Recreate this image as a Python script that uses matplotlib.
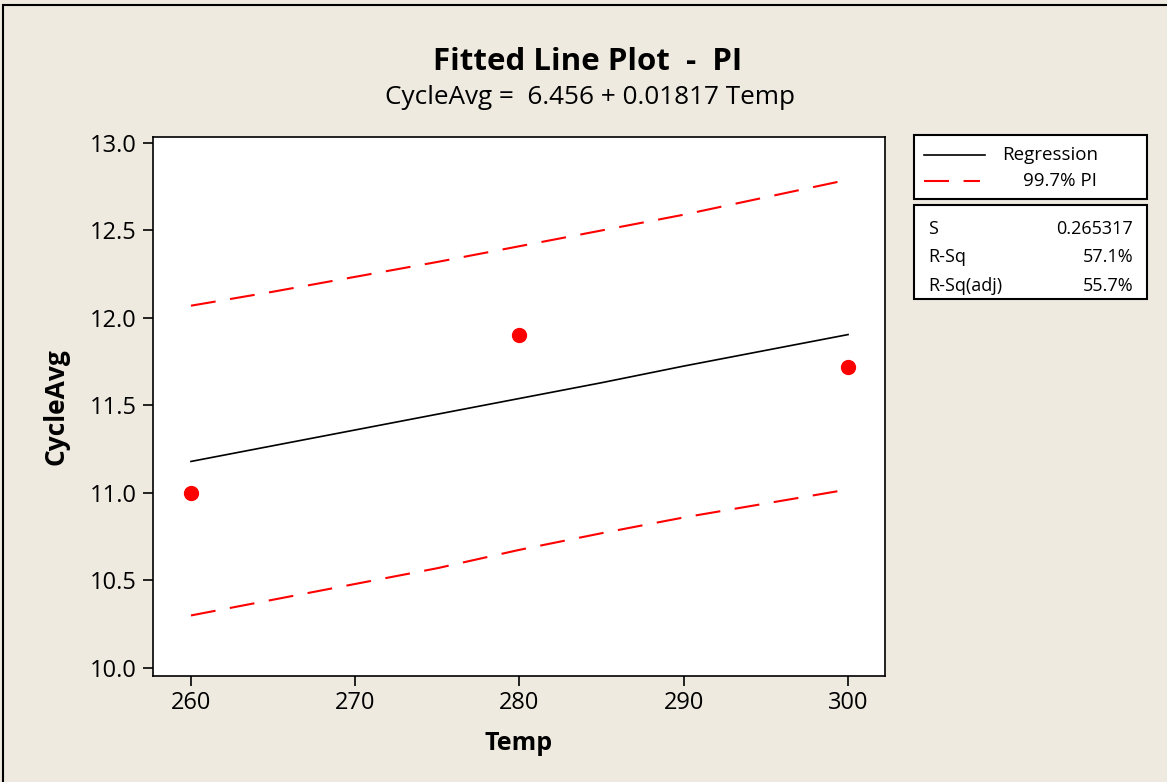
import matplotlib.pyplot as plt
from matplotlib.patches import Rectangle
from matplotlib.lines import Line2D

plt.rcParams['font.family'] = ['Open Sans', 'DejaVu Sans']

# observed points
temp_obs = [260, 280, 300]
cycle_obs = [11.00, 11.905, 11.72]

# fitted line and 99.7% prediction interval
temp_fit = [260, 265, 270, 275, 280, 285, 290, 295, 300]
cycle_fit = [11.18, 11.27, 11.36, 11.45, 11.54, 11.63, 11.725, 11.815, 11.905]
pi_upper = [12.07, 12.15, 12.235, 12.32, 12.41, 12.50, 12.59, 12.69, 12.79]
pi_lower = [10.30, 10.39, 10.48, 10.57, 10.675, 10.77, 10.86, 10.94, 11.02]

x_ticks = [260, 270, 280, 290, 300]
y_ticks = [10.0, 10.5, 11.0, 11.5, 12.0, 12.5, 13.0]

stats_names = ['S', 'R-Sq', 'R-Sq(adj)']
stats_vals = ['0.265317', '57.1%', '55.7%']

bg = '#EEEAE0'
W, H = 1167, 782

fig = plt.figure(figsize=(W / 100, H / 100), dpi=100, facecolor=bg)

def fx(px):
    return px / W

def fy(py):
    return 1 - py / H

# outer frame
fig.patches.append(Rectangle((fx(3), fy(H + 10)), 1.2, fy(5) - fy(H + 10),
                             transform=fig.transFigure, fill=False,
                             edgecolor='black', linewidth=1.5))

ax = fig.add_axes([fx(153), fy(676), fx(885) - fx(153), fy(137) - fy(676)])
ax.set_facecolor('white')

ax.plot(temp_fit, cycle_fit, color='black', linewidth=1.2)
ax.plot(temp_fit, pi_upper, color='red', linewidth=1.5, dashes=(12, 7))
ax.plot(temp_fit, pi_lower, color='red', linewidth=1.5, dashes=(12, 7))
ax.plot(temp_obs, cycle_obs, 'o', color='red', markersize=10, markeredgecolor='red')

ax.set_xlim(257.69, 302.25)
ax.set_ylim(9.954, 13.034)
ax.set_xticks(x_ticks)
ax.set_yticks(y_ticks)
ax.set_yticklabels(['%.1f' % v for v in y_ticks])
ax.tick_params(direction='out', length=7, width=1.2, labelsize=17)
ax.tick_params(axis='y', pad=5)
ax.tick_params(axis='x', pad=4)
for sp in ax.spines.values():
    sp.set_linewidth(1.2)

ax.set_xlabel('Temp', fontsize=18, fontweight='bold', labelpad=11)
ax.set_ylabel('CycleAvg', fontsize=19, fontweight='bold', labelpad=14)

fig.text(fx(588), fy(62), 'Fitted Line Plot  -  PI', ha='center', va='center',
         fontsize=22.5, fontweight='bold')
fig.text(fx(590), fy(97), 'CycleAvg =  6.456 + 0.01817 Temp', ha='center',
         va='center', fontsize=18.8)

# legend box
fig.patches.append(Rectangle((fx(914), fy(199)), fx(1147) - fx(914), fy(135) - fy(199),
                             transform=fig.transFigure, facecolor='white',
                             edgecolor='black', linewidth=1.5))
fig.lines.append(Line2D([fx(924), fx(985)], [fy(155), fy(155)], color='black',
                        linewidth=1.2, transform=fig.transFigure))
fig.lines.append(Line2D([fx(924), fx(980)], [fy(181), fy(181)], color='red',
                        linewidth=1.5, dashes=(12, 7), transform=fig.transFigure))
fig.text(fx(1098), fy(155), 'Regression', ha='right', va='center', fontsize=13.5)
fig.text(fx(1097), fy(181), '99.7% PI', ha='right', va='center', fontsize=13.5)

# stats box
fig.patches.append(Rectangle((fx(914), fy(299)), fx(1147) - fx(914), fy(205) - fy(299),
                             transform=fig.transFigure, facecolor='white',
                             edgecolor='black', linewidth=1.5))
for i, (n, v) in enumerate(zip(stats_names, stats_vals)):
    yy = fy(229 + i * 28.5)
    fig.text(fx(928), yy, n, ha='left', va='center', fontsize=13)
    fig.text(fx(1133), yy, v, ha='right', va='center', fontsize=13)

fig.savefig('out.png', dpi=100, facecolor=bg)
